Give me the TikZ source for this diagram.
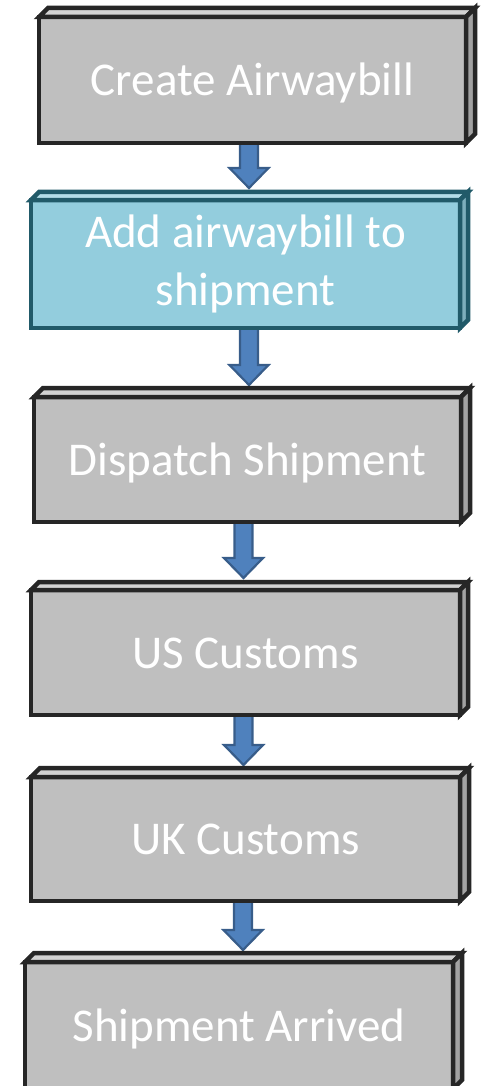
\documentclass[tikz,border=0pt]{standalone}
\usepackage{fontspec}
\setmainfont{Carlito}
\usetikzlibrary{calc,backgrounds}
\definecolor{grayfill}{HTML}{BFBFBF}
\definecolor{grayedge}{HTML}{262626}
\definecolor{tealfill}{HTML}{93CDDD}
\definecolor{tealedge}{HTML}{215A69}
\definecolor{arrfill}{HTML}{4F81BD}
\definecolor{arredge}{HTML}{385D8A}
\tikzset{
  cubebox/.style={draw=grayedge, fill=grayfill, line width=4.5pt, line join=miter,
    text=white, font=\fontsize{47}{58}\selectfont, align=center, inner sep=0pt, outer sep=0pt},
  onelinebox/.style={cubebox, text height=31pt, text depth=0pt},
  tealbox/.style={cubebox, draw=tealedge, fill=tealfill},
  flowarr/.style={draw=arredge, fill=arrfill, line width=2.2pt, line join=miter},
}
\newcommand\cubefaces[4]{%
  \filldraw[draw=#4, fill=#3!70!white, line width=4.5pt, line join=miter]
    (#1.north west) -- ++(#2,-#2) -- ([shift={(#2,-#2)}]#1.north east) -- (#1.north east) -- cycle;
  \filldraw[draw=#4, fill=#3!85!black, line width=4.5pt, line join=miter]
    (#1.north east) -- ++(#2,-#2) -- ([shift={(#2,-#2)}]#1.south east) -- (#1.south east) -- cycle;
}
\newcommand\flowarrow[3]{%
  \draw[flowarr] let \p1=(#1.south), \p2=(#2.north) in
    ({#3pt-9pt},\y1) -- ({#3pt+9pt},\y1) -- ({#3pt+9pt},\y2+32pt) -- ({#3pt+19.5pt},\y2+32pt)
    -- ({#3pt},\y2+12pt) -- ({#3pt-19.5pt},\y2+32pt) -- ({#3pt-9pt},\y2+32pt) -- cycle;
}
\begin{document}
\begin{tikzpicture}[x=1pt,y=-1pt]
  \useasboundingbox (0,0) rectangle (487,1086);
  \clip (0,0) rectangle (487,1086);
  \node[onelinebox, minimum width=427pt, minimum height=126pt] (b1) at (252.5,80) {Create Airwaybill};
  \node[tealbox, minimum width=429pt, minimum height=128pt] (b2) at (245.5,264) {Add airwaybill to\\shipment};
  \node[onelinebox, minimum width=427pt, minimum height=125pt] (b3) at (247.5,459.5) {Dispatch Shipment};
  \node[onelinebox, minimum width=429pt, minimum height=125pt] (b4) at (245.5,652.5) {US Customs};
  \node[onelinebox, minimum width=429pt, minimum height=124pt] (b5) at (245.5,839) {UK Customs};
  \node[onelinebox, minimum width=428pt, minimum height=127pt] (b6) at (239,1025.5) {Shipment Arrived};
  \cubefaces{b1}{9}{grayfill}{grayedge}
  \cubefaces{b2}{8}{tealfill}{tealedge}
  \cubefaces{b3}{9}{grayfill}{grayedge}
  \cubefaces{b4}{8}{grayfill}{grayedge}
  \cubefaces{b5}{9}{grayfill}{grayedge}
  \cubefaces{b6}{9}{grayfill}{grayedge}
  \begin{scope}[on background layer]
    \flowarrow{b1}{b2}{249}
    \flowarrow{b2}{b3}{249}
    \flowarrow{b3}{b4}{243.5}
    \flowarrow{b4}{b5}{243.5}
    \flowarrow{b5}{b6}{243}
  \end{scope}
\end{tikzpicture}
\end{document}
